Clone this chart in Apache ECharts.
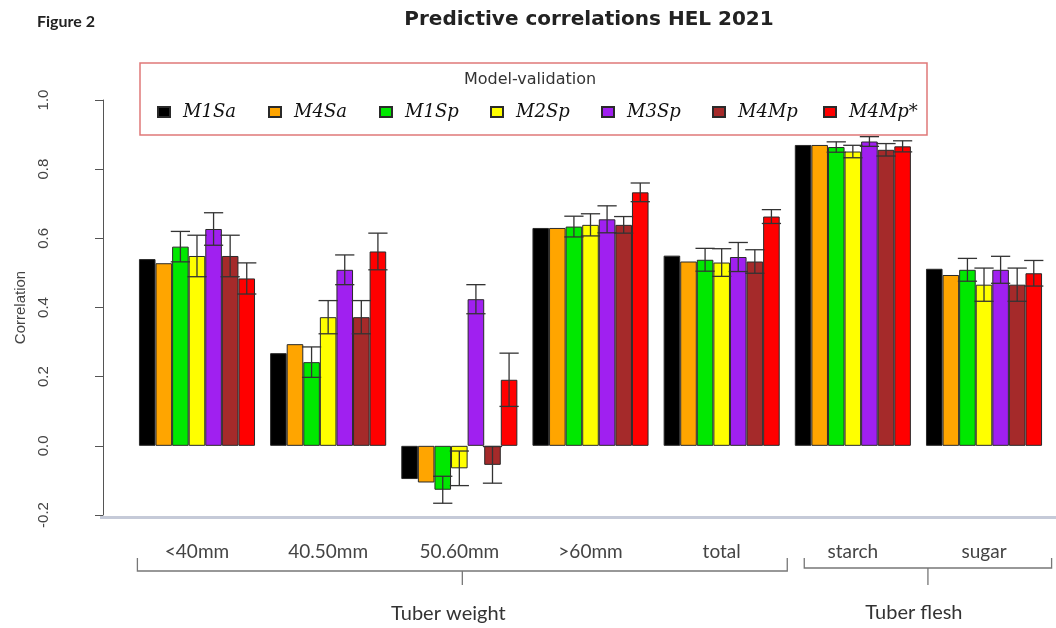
<!DOCTYPE html>
<html>
<head>
<meta charset="utf-8">
<script src="https://cdn.jsdelivr.net/npm/echarts@6/dist/echarts.min.js"></script>
<style>html,body{margin:0;padding:0;background:#fff;}#c{width:1056px;height:628px;}</style>
</head>
<body>
<div id="c"></div>
<script>
// ---------- data ----------
var categories = ['<40mm', '40.50mm', '50.60mm', '>60mm', 'total', 'starch', 'sugar'];
var models = ['M1Sa', 'M4Sa', 'M1Sp', 'M2Sp', 'M3Sp', 'M4Mp', 'M4Mp*'];
var colors = ['#000000', '#FFA500', '#00E800', '#FFFF00', '#A020F0', '#A52A2A', '#FF0000'];

var M1Sa  = [0.540, 0.268, -0.096, 0.630, 0.550, 0.870, 0.512];
var M4Sa  = [0.528, 0.294, -0.106, 0.630, 0.533, 0.870, 0.494];
var M1Sp  = [0.576, 0.242, -0.127, 0.634, 0.538, 0.864, 0.509];
var M2Sp  = [0.549, 0.372, -0.065, 0.639, 0.530, 0.851, 0.466];
var M3Sp  = [0.627, 0.509, 0.424, 0.655, 0.546, 0.880, 0.509];
var M4Mp  = [0.549, 0.372, -0.055, 0.639, 0.533, 0.856, 0.466];
var M4MpS = [0.484, 0.562, 0.191, 0.733, 0.663, 0.866, 0.499];

// error half-widths (null = no error bar)
var errM1Sa  = null;
var errM4Sa  = null;
var errM1Sp  = [0.044, 0.044, 0.039, 0.030, 0.033, 0.015, 0.033];
var errM2Sp  = [0.060, 0.048, 0.050, 0.032, 0.040, 0.018, 0.048];
var errM3Sp  = [0.047, 0.043, 0.042, 0.039, 0.042, 0.014, 0.039];
var errM4Mp  = [0.060, 0.048, 0.053, 0.024, 0.034, 0.018, 0.048];
var errM4MpS = [0.045, 0.053, 0.077, 0.027, 0.020, 0.016, 0.037];

var yTicks = [-0.2, 0.0, 0.2, 0.4, 0.6, 0.8, 1.0];
var groupLabels = ['Tuber weight', 'Tuber flesh'];

// ---------- build ----------
var values = [M1Sa, M4Sa, M1Sp, M2Sp, M3Sp, M4Mp, M4MpS];
var errors = [errM1Sa, errM4Sa, errM1Sp, errM2Sp, errM3Sp, errM4Mp, errM4MpS];
var GAP = 0.115;
var N = models.length;

var errData = [];
errors.forEach(function (e, m) {
  if (!e) return;
  e.forEach(function (d, c) {
    var v = values[m][c];
    errData.push([c, m, v - d, v + d]);
  });
});

var series = models.map(function (name, m) {
  return {
    name: name,
    type: 'bar',
    data: values[m],
    barGap: '0%',
    barCategoryGap: (GAP * 100) + '%',
    itemStyle: { color: colors[m], borderColor: '#2a2a2a', borderWidth: 1 },
    z: 2
  };
});

series.push({
  name: 'err',
  type: 'custom',
  z: 10,
  encode: { x: 0, y: [2, 3] },
  data: errData,
  renderItem: function (params, api) {
    var c = api.value(0), m = api.value(1);
    var lo = api.coord([c, api.value(2)]);
    var hi = api.coord([c, api.value(3)]);
    var band = api.size([1, 0])[0];
    var inner = band * (1 - GAP);
    var bw = inner / N;
    var x = lo[0] - inner / 2 + (m + 0.5) * bw;
    var h = bw * 0.58;
    var st = { stroke: '#333', lineWidth: 1.3 };
    return {
      type: 'group',
      children: [
        { type: 'line', shape: { x1: x, y1: lo[1], x2: x, y2: hi[1] }, style: st },
        { type: 'line', shape: { x1: x - h, y1: lo[1], x2: x + h, y2: lo[1] }, style: st },
        { type: 'line', shape: { x1: x - h, y1: hi[1], x2: x + h, y2: hi[1] }, style: st }
      ]
    };
  }
});

var chart = echarts.init(document.getElementById('c'), null, { renderer: 'canvas' });

var option = {
  animation: false,
  backgroundColor: '#ffffff',
  grid: { left: 131.4, right: 6.4, top: 100, bottom: 113, containLabel: false },
  legend: {
    data: models,
    left: 140,
    top: 63,
    orient: 'horizontal',
    padding: [38, 3, 12, 17],
    itemGap: 10,
    itemWidth: 12,
    itemHeight: 10,
    icon: 'rect',
    borderColor: '#E07878',
    borderWidth: 1.5,
    textStyle: {
      fontFamily: 'DejaVu Serif',
      fontStyle: 'italic',
      fontSize: 18,
      color: '#111',
      width: 75,
      lineHeight: 22,
      padding: [0, 0, 0, 8]
    }
  },
  xAxis: {
    type: 'category',
    data: categories,
    axisLine: { show: false },
    axisTick: { show: false },
    axisLabel: { fontFamily: 'Lato', fontSize: 19, color: '#444', margin: 27 }
  },
  yAxis: {
    type: 'value',
    min: yTicks[0],
    max: yTicks[yTicks.length - 1],
    interval: 0.2,
    offset: 28.4,
    name: 'Correlation',
    nameLocation: 'middle',
    nameRotate: 90,
    nameGap: 74,
    nameTextStyle: { fontFamily: 'Liberation Sans', fontSize: 15, color: '#444' },
    axisLine: { show: true, lineStyle: { color: '#555', width: 1 } },
    axisTick: { show: true, length: 8, lineStyle: { color: '#555' } },
    splitLine: { show: false },
    axisLabel: {
      rotate: 90,
      margin: 52,
      fontFamily: 'Liberation Sans',
      fontSize: 15,
      color: '#444',
      formatter: function (v) { return v.toFixed(1); }
    }
  },
  series: series
};
chart.setOption(option);

// ---------- annotations (positions derived from axis scale) ----------
function cx(i) { return chart.convertToPixel({ xAxisIndex: 0 }, i); }
var band = cx(1) - cx(0);
var wL = cx(0) - band / 2 + 6, wR = cx(4) + band / 2;
var fL = cx(5) - band / 2 + 17, fR = cx(6) + band / 2 + 2;
var brTop = 558, wY = 571, fY = 568, tickY = 585;
var br = { stroke: '#777', lineWidth: 1.3, fill: null };
var wMid = (wL + wR) / 2, fMid = (fL + fR) / 2;

chart.setOption({
  graphic: [
    { type: 'text', x: 37, y: 22, style: { text: 'Figure 2', font: 'bold 16px Lato', fill: '#222', textVerticalAlign: 'middle' } },
    { type: 'text', x: 589, y: 20, style: { text: 'Predictive correlations HEL 2021', font: 'bold 20px "DejaVu Sans"', fill: '#222', textAlign: 'center', textVerticalAlign: 'middle' } },
    { type: 'text', x: 530, y: 80, style: { text: 'Model-validation', font: '16px "DejaVu Sans"', fill: '#333', textAlign: 'center', textVerticalAlign: 'middle' } },
    { type: 'rect', shape: { x: 100, y: 516, width: 956, height: 3 }, style: { fill: '#c5cad8' } },
    { type: 'polyline', shape: { points: [[wL, brTop], [wL, wY], [wR, wY], [wR, brTop]] }, style: br },
    { type: 'line', shape: { x1: wMid, y1: wY, x2: wMid, y2: tickY }, style: br },
    { type: 'polyline', shape: { points: [[fL, brTop], [fL, fY], [fR, fY], [fR, brTop]] }, style: br },
    { type: 'line', shape: { x1: fMid, y1: fY, x2: fMid, y2: tickY }, style: br },
    { type: 'text', x: wMid - 14, y: 614, style: { text: groupLabels[0], font: '20px Lato', fill: '#333', textAlign: 'center', textVerticalAlign: 'middle' } },
    { type: 'text', x: fMid - 14, y: 613, style: { text: groupLabels[1], font: '20px Lato', fill: '#333', textAlign: 'center', textVerticalAlign: 'middle' } }
  ]
});
</script>
</body>
</html>
